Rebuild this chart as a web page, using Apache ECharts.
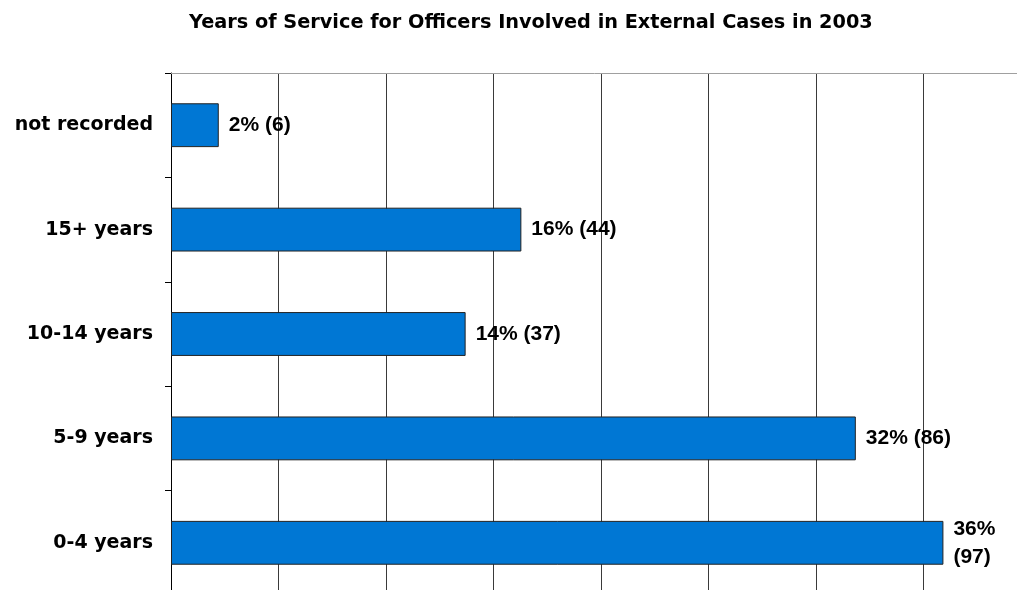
<!DOCTYPE html>
<html>
<head>
<meta charset="utf-8">
<script src="https://cdn.jsdelivr.net/npm/echarts@6/dist/echarts.min.js"></script>
<style>
  html, body { margin: 0; padding: 0; background: #fff; }
  #chart { width: 1017px; height: 590px; }
</style>
</head>
<body>
<div id="chart"></div>
<script>
// Years-of-service groups, listed bottom to top
const categories = ['0-4 years', '5-9 years', '10-14 years', '15+ years', 'not recorded'];
// Number of officers in each group
const counts = [97, 86, 37, 44, 6];
// Share of all officers, as printed next to each bar
const percents = [36, 32, 14, 16, 2];
// Gridline step: 5% of the 270 officers
const gridStep = 13.5;
const axisMax = 108;

const chart = echarts.init(document.getElementById('chart'), null, { renderer: 'canvas' });
const wideFont = '"DejaVu Sans", Verdana, sans-serif';
const labelFont = '"Liberation Sans", Arial, Helvetica, sans-serif';

chart.setOption({
  animation: false,
  backgroundColor: '#ffffff',
  title: {
    text: 'Years of Service for Officers Involved in External Cases in 2003',
    left: 184,
    top: 8,
    textStyle: { fontFamily: wideFont, fontWeight: 'bold', fontSize: 19.3, color: '#000' }
  },
  // the plot runs a little past the right and bottom edges of the page
  grid: {
    left: 171, top: 73, width: 860, height: 522,
    containLabel: false,
    outerBoundsMode: 'none'
  },
  xAxis: {
    type: 'value',
    position: 'top',
    min: 0,
    max: axisMax,
    interval: gridStep,
    axisLine: { show: true, lineStyle: { color: '#a0a0a0', width: 1 } },
    axisTick: { show: false },
    axisLabel: { show: false },
    splitLine: { show: true, lineStyle: { color: '#3a3a3a', width: 1 } }
  },
  yAxis: {
    type: 'category',
    data: categories,
    axisLine: { show: true, lineStyle: { color: '#000', width: 1 } },
    axisTick: { show: true, length: 6, lineStyle: { color: '#000' } },
    axisLabel: {
      margin: 18,
      fontFamily: wideFont,
      fontWeight: 'bold',
      fontSize: 19,
      color: '#000'
    },
    splitLine: { show: false }
  },
  series: [{
    type: 'bar',
    data: counts,
    barCategoryGap: '58%',
    itemStyle: { color: '#0077d4', borderColor: '#222', borderWidth: 1 },
    label: {
      show: true,
      position: 'right',
      distance: 10,
      fontFamily: labelFont,
      fontWeight: 'bold',
      fontSize: 21,
      color: '#000',
      lineHeight: 28,
      formatter: function (p) {
        const sep = p.dataIndex === 0 ? '\n' : ' ';
        return percents[p.dataIndex] + '%' + sep + '(' + counts[p.dataIndex] + ')';
      }
    }
  }]
});
</script>
</body>
</html>
